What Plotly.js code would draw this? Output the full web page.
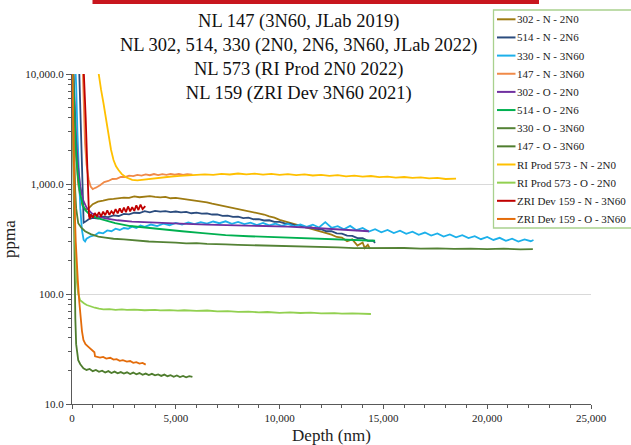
<!DOCTYPE html>
<html><head><meta charset="utf-8">
<script src="https://cdn.plot.ly/plotly-3.0.1.min.js"></script>
<style>html,body{margin:0;padding:0;background:#fff}#chart{width:631px;height:445px}</style>
</head><body><div id="chart"></div><script>
// ---- data (depth nm, ppma) ----
const names = ['302 - N - 2N0','514 - N - 2N6','330 - N - 3N60','147 - N - 3N60','302 - O - 2N0','514 - O - 2N6','330 - O - 3N60','147 - O - 3N60','RI Prod 573 - N - 2N0','RI Prod 573 - O - 2N0','ZRI Dev 159 - N - 3N60','ZRI Dev 159 - O - 3N60'];
const colors = ['#9E7B12','#2B4C7E','#1CB0EA','#F08A48','#7030A0','#00B050','#548235','#4F7D2E','#FFC000','#92D050','#C00000','#E46C0A'];

const s302N = [[40,14000],[120,4000],[200,1800],[300,1000],[400,760],[500,640],[600,600],[700,585],[800,600],[1000,655],[1250,690],[1500,705],[1750,726],[2000,732],[2250,741],[2500,752],[2750,748],[3000,772],[3250,758],[3500,768],[3750,776],[4000,762],[4250,756],[4500,764],[4750,742],[5000,748],[5250,736],[5500,722],[5750,718],[6000,700],[6250,694],[6500,680],[6750,662],[7000,648],[7250,632],[7500,620],[7750,606],[8000,592],[8250,582],[8500,570],[8750,558],[9000,542],[9250,528],[9500,508],[9750,494],[10000,472],[10250,458],[10500,446],[10750,432],[11000,420],[11250,408],[11500,398],[11750,384],[12000,374],[12250,358],[12500,346],[12750,330],[13000,326],[13250,302],[13500,314],[13750,276],[14000,294],[14100,262],[14250,280],[14350,258]];
const s514N = [[330,14000],[390,6000],[440,2000],[490,900],[530,550],[560,445],[650,455],[800,478],[1000,492],[1250,486],[1500,505],[1750,500],[2000,518],[2250,512],[2500,535],[2750,530],[3000,548],[3250,545],[3500,566],[3750,552],[4000,570],[4250,560],[4500,566],[4750,556],[5000,562],[5250,552],[5500,558],[5750,542],[6000,550],[6250,538],[6500,541],[6750,528],[7000,530],[7250,514],[7500,516],[7750,502],[8000,504],[8250,490],[8500,494],[8750,478],[9000,480],[9250,466],[9500,468],[9750,452],[10000,452],[10250,438],[10500,436],[10750,420],[11000,420],[11250,404],[11500,405],[11750,390],[12000,388],[12250,372],[12500,372],[12750,356],[13000,354],[13250,340],[13500,338],[13750,322],[14000,322],[14250,304],[14500,306],[14600,292]];
const s330N = [[140,14000],[200,8000],[260,3000],[320,1200],[400,600],[480,380],[560,310],[630,300],[700,318],[900,335],[1100,342],[1300,362],[1500,356],[1700,378],[1900,372],[2100,392],[2300,382],[2500,398],[2700,392],[2900,410],[3100,398],[3300,420],[3500,408],[3800,428],[4100,414],[4400,436],[4700,422],[5000,442],[5300,428],[5600,448],[5900,432],[6200,450],[6500,436],[6800,456],[7100,440],[7400,458],[7700,434],[8000,452],[8300,432],[8600,446],[8900,424],[9200,442],[9500,420],[9800,436],[10100,416],[10400,434],[10700,412],[11000,428],[11300,408],[11600,426],[11900,402],[12200,450],[12500,400],[12800,414],[13100,388],[13400,416],[13700,380],[14000,398],[14300,370],[14600,388],[14900,364],[15200,382],[15500,358],[15800,376],[16100,352],[16400,368],[16700,345],[17000,362],[17300,340],[17600,355],[17900,333],[18200,348],[18500,328],[18800,342],[19100,322],[19400,336],[19700,315],[20000,330],[20300,310],[20600,324],[20900,304],[21200,318],[21500,300],[21800,314],[22100,302],[22230,310]];
const s147N = [[500,14000],[560,6000],[626,2360],[700,1500],[800,1100],[900,950],[1000,900],[1080,915],[1150,925],[1350,975],[1550,1040],[1750,1065],[1950,1110],[2150,1112],[2350,1160],[2550,1158],[2750,1192],[2950,1178],[3150,1208],[3350,1192],[3550,1222],[3750,1202],[3950,1232],[4150,1206],[4350,1228],[4550,1212],[4750,1238],[4950,1214],[5150,1234],[5350,1208],[5550,1230],[5800,1218]];
const s302O = [[40,14000],[120,5000],[200,2500],[300,1400],[400,950],[530,716],[700,610],[950,541],[1300,505],[1600,487],[2200,468],[2890,455],[3700,447],[4500,440],[5500,434],[6500,428],[7400,424],[8500,420],[9500,415],[10400,410],[11500,400],[12300,392],[13000,385],[13700,378],[14300,372]];
const s514O = [[30,14000],[100,5000],[180,2200],[280,1200],[400,800],[520,650],[630,580],[800,540],[1000,510],[1270,487],[1600,465],[2080,440],[2800,415],[3690,397],[4500,383],[5300,372],[6300,357],[7400,343],[8500,335],[9570,329],[10800,322],[12000,316],[13300,310],[14600,305]];
const s330O = [[20,12000],[60,4000],[100,1800],[150,900],[200,600],[300,440],[450,400],[630,372],[900,350],[1270,333],[1600,326],[2000,318],[2500,314],[2890,308],[3300,305],[3700,300],[4100,298],[4500,294],[5000,293],[5500,289],[6000,290],[6500,285],[7000,286],[7400,283],[8000,280],[8800,278],[9500,276],[10400,272],[11200,270],[12000,267],[12800,265],[13600,261],[14400,262],[15200,259],[16000,262],[16800,258],[17600,260],[18400,257],[19200,259],[20000,256],[20800,258],[21600,255],[22200,256]];
const s147O = [[0,15000],[40,3000],[80,600],[120,150],[160,60],[200,35],[250,28],[300,25],[400,23],[550,21.1],[700,20.4],[850,20.8],[1000,19.9],[1150,20.4],[1300,19.6],[1450,20.1],[1600,19.3],[1750,19.9],[1900,19.1],[2050,19.7],[2200,19.0],[2350,19.5],[2500,18.9],[2650,19.4],[2800,18.7],[2950,19.3],[3100,18.6],[3250,19.1],[3400,18.4],[3550,18.9],[3700,18.3],[3850,18.8],[4000,18.2],[4150,18.6],[4300,18.0],[4450,18.5],[4600,17.9],[4750,18.3],[4900,17.7],[5050,18.2],[5200,17.6],[5350,18.0],[5500,17.5],[5650,17.9],[5800,17.6]];
const s573N = [[1150,15000],[1270,10000],[1400,7200],[1515,5450],[1640,3800],[1760,2690],[1880,2050],[2000,1650],[2120,1450],[2240,1340],[2400,1230],[2600,1150],[2900,1090],[3150,1080],[3400,1095],[3700,1110],[4000,1135],[4400,1150],[4800,1170],[5200,1185],[5600,1195],[5950,1206],[6400,1225],[6800,1208],[7200,1236],[7600,1220],[8000,1245],[8400,1224],[8800,1240],[9200,1215],[9600,1236],[10000,1210],[10400,1230],[10800,1204],[11200,1222],[11600,1195],[12000,1212],[12400,1185],[12800,1202],[13200,1175],[13600,1192],[14000,1165],[14400,1182],[14800,1155],[15200,1168],[15600,1145],[16000,1158],[16400,1135],[16800,1148],[17200,1125],[17600,1138],[18000,1110],[18500,1118]];
const s573O = [[0,15000],[50,4000],[100,1000],[150,300],[225,134],[300,100],[390,88],[470,85],[590,82],[710,79.4],[900,77],[1100,75],[1300,73.5],[1510,72.5],[1800,72.8],[2100,71.8],[2400,72.4],[2640,71.6],[3000,72.2],[3500,71.2],[4000,71.8],[4250,70.9],[4700,71.5],[5100,70.6],[5400,71.2],[6000,70.3],[6510,70.8],[7000,69.6],[7500,69.9],[8000,68.8],[8500,69.2],[9000,68.1],[9410,68.6],[10000,67.5],[10500,68.0],[11000,67.2],[11500,67.6],[12000,66.7],[12640,67.1],[13000,66.2],[13500,66.6],[14000,65.6],[14400,65.8]];
const s159N = [[540,14000],[600,8000],[660,4000],[720,1800],[760,1000],[790,650],[820,510],[860,480],[900,530],[1000,495],[1100,545],[1200,510],[1300,555],[1400,505],[1500,560],[1600,520],[1700,575],[1800,525],[1900,565],[2000,535],[2100,590],[2200,540],[2300,600],[2400,548],[2500,610],[2600,555],[2700,625],[2800,565],[2900,615],[3000,570],[3100,640],[3200,580],[3300,650],[3400,590],[3530,630]];
const s159O = [[0,15000],[40,5000],[80,1500],[130,600],[180,300],[230,180],[280,134],[350,85],[420,60],[480,46],[550,38.2],[650,35],[790,33.1],[900,31.8],[1030,30.5],[1080,29.5],[1110,27.1],[1200,26.9],[1350,26.4],[1500,26.8],[1650,25.9],[1840,26.3],[2000,25.3],[2150,25.6],[2300,24.7],[2450,25.0],[2640,24.3],[2800,24.6],[2950,23.7],[3100,24.0],[3250,23.3],[3400,23.6],[3550,22.8]];

const series = [s302N,s514N,s330N,s147N,s302O,s514O,s330O,s147O,s573N,s573O,s159N,s159O];

// ---- plot ----
const L = 72, R = 591, T = 74, B = 404;
const fx = p => (p - L) / (R - L), fy = p => (B - p) / (B - T);
const serif = 'Liberation Serif, Times New Roman, serif';

const traces = series.map((s, i) => ({
  type: 'scatter', mode: 'lines', name: names[i],
  x: s.map(p => p[0]), y: s.map(p => p[1]),
  line: {color: colors[i], width: 1.8}, hoverinfo: 'skip'
}));

const shapes = [
  {type:'rect', xref:'paper', yref:'paper', x0:fx(92.5), x1:fx(539), y0:fy(4), y1:fy(-2), fillcolor:'#C8161E', line:{width:0}, layer:'above'},
  {type:'rect', xref:'paper', yref:'paper', x0:fx(493.5), x1:fx(645), y0:fy(228), y1:fy(10), fillcolor:'#fff', line:{color:'#A9D18E', width:1.3}, layer:'above'}
];
const annotations = [
  {xref:'paper', yref:'paper', x:fx(298), y:fy(57), xanchor:'center', yanchor:'middle', showarrow:false,
   text:['NL 147 (3N60, JLab 2019)','NL 302, 514, 330 (2N0, 2N6, 3N60, JLab 2022)','NL 573 (RI Prod 2N0 2022)','NL 159 (ZRI Dev 3N60 2021)'].join('<br>'),
   font:{family:serif, size:18.5, color:'#111'}, bgcolor:'#fff', borderpad:1}
];
names.forEach((n, i) => {
  const yy = 19.3 + 18.15 * i;
  shapes.push({type:'line', xref:'paper', yref:'paper', x0:fx(497), x1:fx(515.5), y0:fy(yy), y1:fy(yy), line:{color:colors[i], width:2}, layer:'above'});
  annotations.push({xref:'paper', yref:'paper', x:fx(515.5), y:fy(yy), xanchor:'left', yanchor:'middle', showarrow:false, text:n, borderpad:0, font:{family:serif, size:11, color:'#222'}});
});

const layout = {
  width:631, height:445,
  margin:{l:L, r:631-R, t:T, b:445-B, autoexpand:false},
  paper_bgcolor:'#fff', plot_bgcolor:'#fff', showlegend:false,
  font:{family:serif, color:'#222'},
  xaxis:{range:[0,25000], dtick:5000, tickformat:',d', ticks:'outside', ticklen:4, tickcolor:'#595959',
    showline:true, linecolor:'#595959', linewidth:1, showgrid:false, zeroline:false, tickfont:{size:11, family:serif},
    minor:{dtick:1000, ticks:'outside', ticklen:3, tickcolor:'#595959', showgrid:false},
    title:{text:'Depth (nm)', font:{size:17, family:serif}}, automargin:false},
  yaxis:{type:'log', range:[1,4], tickmode:'array', tickvals:[10,100,1000,10000], ticktext:['10.0','100.0','1,000.0','10,000.0'],
    ticks:'outside', ticklen:5, tickcolor:'#595959', showline:true, linecolor:'#595959', linewidth:1,
    showgrid:true, gridcolor:'#D9D9D9', gridwidth:1, zeroline:false, tickfont:{size:11, family:serif},
    minor:{dtick:'D1', ticks:'outside', ticklen:3, tickcolor:'#595959', showgrid:false},
    title:{text:'ppma', font:{size:17, family:serif}, standoff:14}, automargin:false},
  shapes:shapes, annotations:annotations
};
Plotly.newPlot('chart', traces, layout, {staticPlot:true, displayModeBar:false});
</script></body></html>
